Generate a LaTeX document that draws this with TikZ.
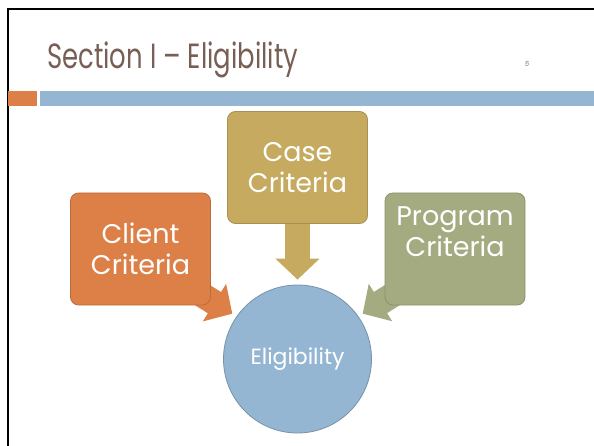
\documentclass[tikz,border=0pt]{standalone}
\usepackage{fontspec}
\setmainfont{Poppins}
\newfontfamily\titlefont[FakeStretch=0.74]{Poppins}
\usetikzlibrary{arrows.meta,backgrounds,calc}
\definecolor{titlebrown}{HTML}{775F55}
\definecolor{clientorange}{HTML}{DD8047}
\definecolor{casegold}{HTML}{C5AA5F}
\definecolor{programolive}{HTML}{A5AB81}
\definecolor{eligblue}{HTML}{94B6D2}
\begin{document}
\begin{tikzpicture}[x=1pt,y=-1pt,
		crit/.style={rounded corners=8pt,minimum width=140pt,minimum height=112pt,inner sep=2pt,
			text=white,align=center,font=\fontsize{27}{31}\selectfont,line width=0.8pt},
		feed/.style={line width=25pt,-{Triangle[width=43pt,length=21pt]},shorten >=5pt}]
		\useasboundingbox (0,0) rectangle (594,446);
		\draw[line width=2.5pt] (8,446) -- (8,9) -- (594,9);
		\fill[clientorange] (8,91) rectangle (37,106);
		\fill[eligblue] (40,91) rectangle (594,106);
		
		\node[anchor=base west,inner sep=0pt,text=titlebrown,font=\titlefont\fontsize{35}{40}\selectfont] (title) at (47,69) {Section I – Eligibility};
		\node[anchor=base,text=titlebrown!85,font=\fontsize{7}{8}\selectfont] (pagenum) at (527,67) {\textit{5}};
		
		\node[crit,fill=clientorange,draw=clientorange!85!black] (client) at (140.5,249) {Client\\Criteria};
		\node[crit,fill=casegold,draw=casegold!85!black] (case) at (297.5,167.5) {Case\\Criteria};
		\node[crit,fill=programolive,draw=programolive!85!black,text depth=34pt] (program) at (455,249) {Program\\Criteria};
		\node[circle,minimum size=148pt,fill=eligblue,draw=eligblue!80!black,line width=0.8pt,
			text=white,font=\fontsize{22}{26}\selectfont] (elig) at (297.5,359) {Eligibility};
		
		\coordinate (clientout) at ($(client.south east)+(-29,-23)$);
		\coordinate (programout) at ($(program.south west)+(28,-23)$);
		\begin{scope}[on background layer]
			\draw[feed,casegold] (case.center) -- (elig.north);
			\draw[feed,clientorange] (clientout) -- (elig.145);
			\draw[feed,programolive] (programout) -- (elig.35);
		\end{scope}
	\end{tikzpicture}
\end{document}
